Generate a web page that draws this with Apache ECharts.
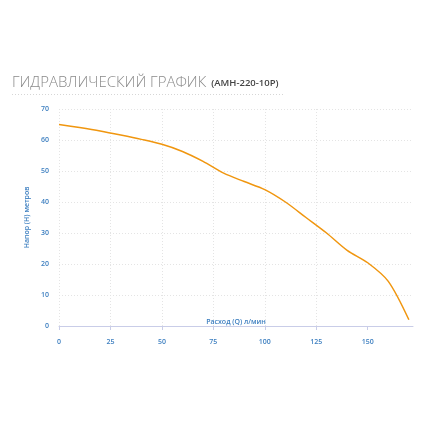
<!DOCTYPE html>
<html>
<head>
    <meta charset="utf-8">
    <title>Гидравлический график</title>
    <script src="https://cdn.jsdelivr.net/npm/echarts@6/dist/echarts.min.js"></script>
    <style>
        html, body { margin: 0; padding: 0; background: #fff; }
        #chart { width: 430px; height: 430px; }
    </style>
</head>
<body>
    <div id="chart"></div>
    <script type="text/javascript">
        // данные кривой: расход (л/мин) и напор (м)
        var flowValues = [0, 10, 20, 30, 40, 50, 60, 70, 80, 90, 100, 110, 120, 130, 140, 150, 160, 170];
        var headValues = [65, 64, 62.9, 61.6, 60.2, 58.6, 56.3, 53.1, 49.3, 46.6, 44, 40, 35, 30, 24.4, 20.4, 14.4, 2];
        var xTicks = [0, 25, 50, 75, 100, 125, 150];

        var points = [];
        for (var i = 0; i < flowValues.length; i++) {
            points.push([flowValues[i], headValues[i]]);
        }

        var myChart = echarts.init(document.getElementById('chart'));
        var labelColor = '#3d7fc0';

        myChart.setOption({
            animation: false,
            title: {
                left: 12,
                top: 74,
                padding: 0,
                text: '{a|ГИДРАВЛИЧЕСКИЙ ГРАФИК} {b|(АМН-220-10Р)}',
                textStyle: {
                    rich: {
                        a: { fontFamily: 'Open Sans', fontSize: 15, fontWeight: 300, color: '#8a8a8a' },
                        b: { fontFamily: 'Open Sans', fontSize: 9.5, fontWeight: 600, color: '#444' }
                    }
                }
            },
            graphic: [{
                type: 'line',
                shape: { x1: 12, y1: 94.5, x2: 284, y2: 94.5 },
                style: { stroke: '#d6d6d6', lineWidth: 1, lineDash: [1, 2] }
            }],
            grid: {
                left: 59,
                right: 17,
                top: 109,
                bottom: 104
            },
            xAxis: {
                type: 'value',
                min: 0,
                max: 172,
                interval: 25,
                name: 'Расход (Q) л/мин',
                nameLocation: 'middle',
                nameGap: -8,
                nameMoveOverlap: false,
                nameTextStyle: { color: labelColor, fontSize: 7, fontFamily: 'Open Sans', fontWeight: 600 },
                axisLine: { lineStyle: { color: '#c9cde8' } },
                axisTick: { show: true, length: 4, lineStyle: { color: '#c9cde8' }, customValues: xTicks },
                axisLabel: {
                    color: labelColor, fontSize: 7, fontFamily: 'Open Sans', fontWeight: 600,
                    margin: 12, customValues: xTicks
                },
                splitLine: {
                    show: true, showMaxLine: false,
                    lineStyle: { color: '#e4e4e4', type: [1, 2] }
                }
            },
            yAxis: {
                type: 'value',
                min: 0,
                max: 70,
                interval: 10,
                name: 'Напор (Н) метров',
                nameLocation: 'middle',
                nameGap: 27,
                nameTextStyle: { color: labelColor, fontSize: 7, fontFamily: 'Open Sans', fontWeight: 600 },
                axisLine: { show: false },
                axisTick: { show: false },
                axisLabel: { color: labelColor, fontSize: 7, fontFamily: 'Open Sans', fontWeight: 600, margin: 10 },
                splitLine: {
                    show: true,
                    lineStyle: { color: '#e4e4e4', type: [1, 2] }
                }
            },
            series: [{
                type: 'line',
                data: points,
                smooth: 0.3,
                showSymbol: false,
                lineStyle: { color: '#f0960f', width: 1.5 }
            }]
        });
    </script>
</body>
</html>
